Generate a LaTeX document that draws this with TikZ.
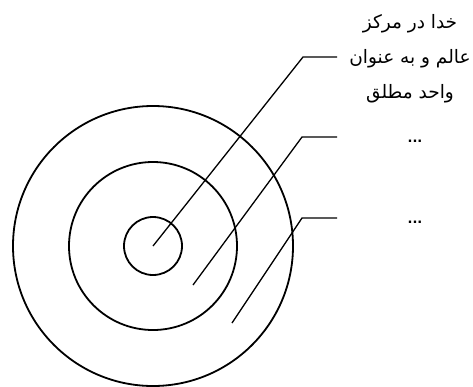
\documentclass[tikz,border=0pt]{standalone}
\usepackage{fontspec}
\newfontfamily\arabicfont[Script=Arabic]{DejaVu Sans}
\TeXXeTstate=1
\usetikzlibrary{positioning}

\begin{document}
\begin{tikzpicture}
  [x=1pt, y=-1pt,
   ring/.style={circle, draw, line width=1.8pt, inner sep=0pt},
   leader/.style={line width=1.3pt},
   caption/.style={font=\arabicfont\fontsize{18.5}{35}\selectfont, align=center},
   dotsnode/.style={font=\arabicfont\bfseries\fontsize{13}{13}\selectfont}]
  \useasboundingbox (0,0) rectangle (473,386);
  % the three rings
  \node[ring, minimum size=280pt] (outer) at (153,246) {};
  \node[ring, minimum size=168pt] (middle) at (153,246) {};
  \node[ring, minimum size=58pt] (inner) at (153,246) {};
  % labels
  \node[caption] (god) at (410,59) {\beginR خدا در مرکز\endR\\\beginR عالم و به عنوان\endR\\\beginR واحد مطلق\endR};
  \node[dotsnode] (dotsa) at (415,141) {...};
  \node[dotsnode] (dotsb) at (415,222) {...};
  % leader ends
  \coordinate (p1) at (153,246);
  \coordinate (b1) at (303,57);
  \coordinate (e1) at (337,57);
  \coordinate (p2) at (193,285);
  \coordinate (b2) at (302,137);
  \coordinate (e2) at (337,137);
  \coordinate (p3) at (232,323);
  \coordinate (b3) at (302,218);
  \coordinate (e3) at (337,218);
  \draw[leader] (p1) -- (b1) -- (e1);
  \draw[leader] (p2) -- (b2) -- (e2);
  \draw[leader] (p3) -- (b3) -- (e3);
\end{tikzpicture}
\end{document}
